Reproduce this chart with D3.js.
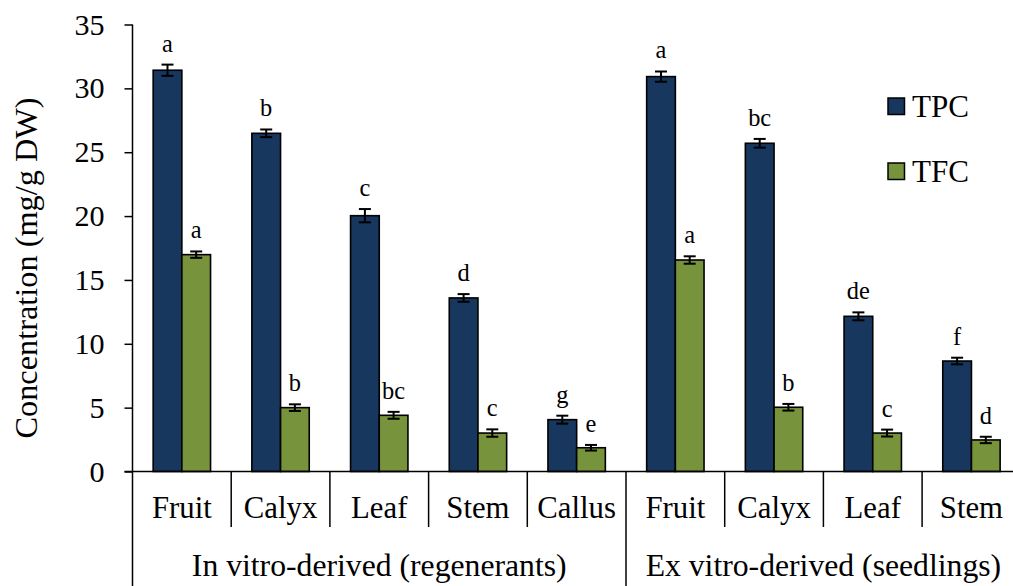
<!DOCTYPE html>
<html>
<head>
<meta charset="utf-8">
<script src="https://cdn.jsdelivr.net/npm/d3@7"></script>
<style>
  html, body { margin: 0; padding: 0; background: #fff; overflow: hidden; }
  svg { display: block; }
</style>
</head>
<body>
<svg id="chart" width="1013" height="586"></svg>
<script>
// Groups of plant material and the tissues measured in each
const groupNames = ["In vitro-derived (regenerants)", "Ex vitro-derived (seedlings)"];
const groupTissues = [
  ["Fruit", "Calyx", "Leaf", "Stem", "Callus"],
  ["Fruit", "Calyx", "Leaf", "Stem"]
];

// Total phenolic content (mg/g DW), in tissue order across both groups
const tpcValues = [31.42, 26.48, 20.03, 13.59, 4.06, 30.92, 25.70, 12.15, 8.65];
const tpcErrors = [0.44, 0.30, 0.52, 0.30, 0.31, 0.40, 0.34, 0.31, 0.26];
const tpcLetters = ["a", "b", "c", "d", "g", "a", "bc", "de", "f"];

// Total flavonoid content (mg/g DW)
const tfcValues = [16.98, 5.00, 4.40, 3.01, 1.86, 16.56, 5.03, 3.01, 2.47];
const tfcErrors = [0.25, 0.26, 0.27, 0.29, 0.22, 0.29, 0.26, 0.27, 0.25];
const tfcLetters = ["a", "b", "bc", "c", "e", "a", "b", "c", "d"];

const seriesNames = ["TPC", "TFC"];
const yTicks = [0, 5, 10, 15, 20, 25, 30, 35];

const colors = { TPC: "#17375E", TFC: "#77933C" };

// Pick the first installed serif face, detected by comparing glyph widths
const ctx = document.createElement("canvas").getContext("2d");
function width(font, txt) { ctx.font = font; return ctx.measureText(txt).width; }
const probe = "In vitro-derived (regenerants) mmmWWiil";
const candidates = ["Liberation Serif", "Tinos", "Times New Roman", "DejaVu Serif",
  "Noto Serif", "FreeSerif", "Nimbus Roman", "Nimbus Roman No9 L"];
let family = "serif";
for (const f of candidates) {
  const a = width(`40px '${f}', monospace`, probe), b = width("40px monospace", probe);
  const c = width(`40px '${f}', sans-serif`, probe), d = width("40px sans-serif", probe);
  if (a !== b && c !== d) { family = `'${f}'`; break; }
}
// Scale all type so the long group label keeps its width
const base = 375 / width(`100px ${family}`, groupNames[0]) * 100;
const fs = { group: base, tissue: base * 0.97, tick: base * 0.95, title: base * 1.02,
  letter: base * 0.77, legend: base * 0.98 };

// Flatten into one row per tissue
const rows = [];
groupTissues.forEach((tissues, g) => {
  tissues.forEach(t => {
    const i = rows.length;
    rows.push({
      id: g + "-" + t, group: g, tissue: t,
      TPC: { v: tpcValues[i], e: tpcErrors[i], l: tpcLetters[i] },
      TFC: { v: tfcValues[i], e: tfcErrors[i], l: tfcLetters[i] }
    });
  });
});

const svg = d3.select("#chart").attr("font-family", family);
const plotLeft = 132.5, plotRight = plotLeft + 98.7 * rows.length;
const plotTop = 24.5, plotBase = 471.5;

const x0 = d3.scaleBand().domain(rows.map(r => r.id)).range([plotLeft, plotRight]).padding(0);
const x1 = d3.scaleBand().domain(seriesNames).range([0, x0.bandwidth()])
  .paddingInner(0).paddingOuter(0.72);
const y = d3.scaleLinear().domain([0, 35]).range([plotBase, plotTop]);

// Bars, error bars and significance letters
const cat = svg.append("g").selectAll("g").data(rows).join("g")
  .attr("transform", d => `translate(${x0(d.id)},0)`);

seriesNames.forEach(s => {
  cat.append("rect")
    .attr("x", x1(s))
    .attr("y", d => y(d[s].v))
    .attr("width", x1.bandwidth())
    .attr("height", d => y(0) - y(d[s].v))
    .attr("fill", colors[s])
    .attr("stroke", "#000")
    .attr("stroke-width", 1.6);

  const cx = x1(s) + x1.bandwidth() / 2;
  const eb = cat.append("g").attr("stroke", "#000").attr("stroke-width", 2);
  eb.append("line").attr("x1", cx).attr("x2", cx)
    .attr("y1", d => y(d[s].v + d[s].e)).attr("y2", d => y(d[s].v - d[s].e));
  eb.append("line").attr("x1", cx - 6).attr("x2", cx + 6)
    .attr("y1", d => y(d[s].v + d[s].e)).attr("y2", d => y(d[s].v + d[s].e));
  eb.append("line").attr("x1", cx - 6).attr("x2", cx + 6)
    .attr("y1", d => y(d[s].v - d[s].e)).attr("y2", d => y(d[s].v - d[s].e));

  cat.append("text")
    .attr("x", cx)
    .attr("y", d => y(d[s].v + d[s].e) - 13)
    .attr("text-anchor", "middle")
    .attr("font-size", fs.letter)
    .attr("fill", "#000")
    .text(d => d[s].l);
});

// Y axis
const yAxis = svg.append("g")
  .attr("transform", `translate(${plotLeft},0)`)
  .call(d3.axisLeft(y).tickValues(yTicks).tickSize(8).tickPadding(20));
yAxis.attr("font-family", family).attr("font-size", fs.tick);
yAxis.select(".domain").remove();
yAxis.selectAll(".tick line").attr("stroke", "#000").attr("stroke-width", 1.5);
yAxis.selectAll(".tick text").attr("fill", "#000");

// Vertical axis line, continued down through the category labels
svg.append("line").attr("x1", plotLeft).attr("x2", plotLeft)
  .attr("y1", y(35)).attr("y2", 586)
  .attr("stroke", "#000").attr("stroke-width", 1.5);

// Baseline
svg.append("line").attr("x1", plotLeft - 8).attr("x2", plotRight)
  .attr("y1", y(0)).attr("y2", y(0))
  .attr("stroke", "#000").attr("stroke-width", 1.5);

// Category dividers: short between tissues, full height between groups
const groupStarts = new Set();
let acc = 0;
groupTissues.forEach(t => { groupStarts.add(acc); acc += t.length; });
groupStarts.add(acc);
for (let i = 1; i <= rows.length; i++) {
  const xp = i < rows.length ? x0(rows[i].id) : plotRight;
  svg.append("line").attr("x1", xp).attr("x2", xp)
    .attr("y1", y(0)).attr("y2", groupStarts.has(i) ? 586 : 527)
    .attr("stroke", "#000").attr("stroke-width", 1.5);
}

// Tissue labels
svg.append("g").selectAll("text").data(rows).join("text")
  .attr("x", d => x0(d.id) + x0.bandwidth() / 2)
  .attr("y", 518)
  .attr("text-anchor", "middle")
  .attr("font-size", fs.tissue)
  .text(d => d.tissue);

// Group labels
acc = 0;
groupTissues.forEach((t, g) => {
  const gx1 = x0(rows[acc].id);
  const gx2 = acc + t.length < rows.length ? x0(rows[acc + t.length].id) : plotRight;
  svg.append("text")
    .attr("x", (gx1 + gx2) / 2)
    .attr("y", 576)
    .attr("text-anchor", "middle")
    .attr("font-size", fs.group)
    .text(groupNames[g]);
  acc += t.length;
});

// Y axis title
svg.append("text")
  .attr("transform", "translate(37,268) rotate(-90)")
  .attr("text-anchor", "middle")
  .attr("font-size", fs.title)
  .text("Concentration (mg/g DW)");

// Legend
const legend = svg.append("g").selectAll("g").data(seriesNames).join("g")
  .attr("transform", (d, i) => `translate(888,${98 + i * 65})`);
legend.append("rect").attr("width", 16.5).attr("height", 16.5)
  .attr("fill", d => colors[d]).attr("stroke", "#000").attr("stroke-width", 1.5);
legend.append("text").attr("x", 24).attr("y", 18.5)
  .attr("font-size", fs.legend).text(d => d);
</script>
</body>
</html>
